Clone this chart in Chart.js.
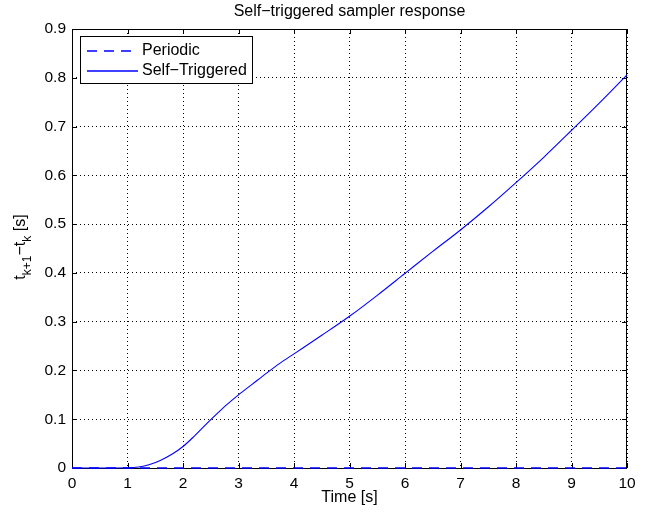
<!DOCTYPE html>
<html>
<head>
<meta charset="utf-8">
<script src="https://cdn.jsdelivr.net/npm/chart.js@4.4.1/dist/chart.umd.min.js"></script>
<style>
  html, body { margin: 0; padding: 0; background: #fff; }
  #wrap { width: 654px; height: 513px; }
</style>
</head>
<body>
<div id="wrap"><canvas id="chart" width="654" height="513"></canvas></div>
<script>
const timeS = [0, 0.5, 1, 1.2, 1.4, 1.6, 1.8, 2, 2.2, 2.4, 2.6, 2.8, 3, 3.25, 3.5, 3.75, 4, 4.5, 5, 5.5, 6, 6.5, 7, 7.5, 8, 8.5, 9, 9.5, 10];
const selfTriggered = [0, 0, 0.0005, 0.002, 0.007, 0.016, 0.028, 0.044, 0.065, 0.088, 0.110, 0.131, 0.150, 0.172, 0.194, 0.215, 0.234, 0.272, 0.311, 0.354, 0.399, 0.444, 0.488, 0.535, 0.585, 0.637, 0.692, 0.748, 0.806];
const periodicTime = [0, 10];
const periodic = [0, 0];
const xTicks = [0, 1, 2, 3, 4, 5, 6, 7, 8, 9, 10];
const yTicks = [0, 0.1, 0.2, 0.3, 0.4, 0.5, 0.6, 0.7, 0.8, 0.9];
const seriesNames = ["Periodic", "Self\u2212Triggered"];

const font = "Liberation Sans, Arial, Helvetica, sans-serif";
const lineBlue = "#0000ff";

const decor = {
  id: "decor",
  beforeDatasetsDraw(chart) {
    const ctx = chart.ctx;
    const a = chart.chartArea;
    const xs = chart.scales.x, ys = chart.scales.y;
    ctx.save();
    ctx.strokeStyle = "#000";
    ctx.lineWidth = 1;
    ctx.setLineDash([]);
    ctx.strokeRect(a.left + 0.5, a.top + 0.5, a.right - a.left - 1, a.bottom - a.top);
    // inward ticks
    ctx.beginPath();
    xTicks.forEach(v => {
      const px = Math.round(xs.getPixelForValue(v)) + 0.5;
      ctx.moveTo(px, a.bottom); ctx.lineTo(px, a.bottom - 5);
      ctx.moveTo(px, a.top); ctx.lineTo(px, a.top + 5);
    });
    yTicks.forEach(v => {
      const py = Math.round(ys.getPixelForValue(v)) + 0.5;
      ctx.moveTo(a.left, py); ctx.lineTo(a.left + 5, py);
      ctx.moveTo(a.right, py); ctx.lineTo(a.right - 5, py);
    });
    ctx.stroke();
    ctx.restore();
  },
  afterDraw(chart) {
    const ctx = chart.ctx;
    const a = chart.chartArea;
    ctx.save();
    const cx = (a.left + a.right) / 2;
    ctx.fillStyle = "#000";
    ctx.textAlign = "center";
    ctx.textBaseline = "middle";
    ctx.font = "16px " + font;
    ctx.fillText("Self\u2212triggered sampler response", cx, 12);
    ctx.fillText("Time [s]", cx, 498);

    // y label with subscripts, rotated
    ctx.save();
    ctx.translate(20, 247);
    ctx.rotate(-Math.PI / 2);
    const parts = [["t", 0], ["k+1", 1], ["\u2212t", 0], ["k", 1], [" [s]", 0]];
    const fNorm = "16px " + font, fSub = "12px " + font;
    let total = 0;
    parts.forEach(p => { ctx.font = p[1] ? fSub : fNorm; total += ctx.measureText(p[0]).width; });
    let x = -total / 2;
    ctx.textAlign = "left";
    ctx.textBaseline = "alphabetic";
    parts.forEach(p => {
      ctx.font = p[1] ? fSub : fNorm;
      ctx.fillText(p[0], x, p[1] ? 11 : 5);
      x += ctx.measureText(p[0]).width;
    });
    ctx.restore();

    // legend
    const lx = 80, ly = 36, lw = 172, lh = 47;
    ctx.fillStyle = "#fff";
    ctx.fillRect(lx, ly, lw, lh);
    ctx.strokeStyle = "#000";
    ctx.lineWidth = 1;
    ctx.strokeRect(lx + 0.5, ly + 0.5, lw, lh);
    const dashes = [[10, 7], []];
    seriesNames.forEach((name, i) => {
      const yy = ly + 15 + i * 20;
      ctx.strokeStyle = lineBlue;
      ctx.lineWidth = 1.4;
      ctx.setLineDash(dashes[i]);
      ctx.beginPath();
      ctx.moveTo(lx + 7, yy); ctx.lineTo(lx + 58, yy);
      ctx.stroke();
      ctx.setLineDash([]);
      ctx.fillStyle = "#000";
      ctx.font = "16px " + font;
      ctx.textAlign = "left";
      ctx.textBaseline = "middle";
      ctx.fillText(name, lx + 62, yy);
    });
    ctx.restore();
  }
};

new Chart(document.getElementById("chart"), {
  type: "line",
  data: {
    datasets: [
      {
        label: seriesNames[0],
        data: periodicTime.map((t, i) => ({ x: t, y: periodic[i] })),
        borderColor: lineBlue,
        borderWidth: 1.5,
        borderDash: [10, 7],
        pointRadius: 0,
        clip: 4,
        fill: false
      },
      {
        label: seriesNames[1],
        data: timeS.map((t, i) => ({ x: t, y: selfTriggered[i] })),
        borderColor: lineBlue,
        borderWidth: 1.1,
        cubicInterpolationMode: "monotone",
        pointRadius: 0,
        clip: 4,
        fill: false
      }
    ]
  },
  options: {
    responsive: false,
    animation: false,
    layout: { padding: { left: 0, right: 27, top: 29, bottom: 0 } },
    plugins: { legend: { display: false }, title: { display: false }, tooltip: { enabled: false } },
    scales: {
      x: {
        type: "linear",
        min: 0, max: 10,
        afterFit(s) { s.height = 45; },
        afterBuildTicks(s) { s.ticks = xTicks.map(v => ({ value: v })); },
        grid: { color: "#000", lineWidth: 1, drawTicks: false },
        border: { display: false, dash: [1, 3] },
        ticks: { color: "#000", padding: 6, font: { family: font, size: 15.5 }, maxRotation: 0 }
      },
      y: {
        type: "linear",
        min: 0, max: 0.9,
        afterFit(s) { s.width = 72; },
        afterBuildTicks(s) { s.ticks = yTicks.map(v => ({ value: v })); },
        grid: { color: "#000", lineWidth: 1, drawTicks: false },
        border: { display: false, dash: [1, 3] },
        ticks: {
          color: "#000", padding: 6, font: { family: font, size: 15.5 },
          callback: v => String(Number(v.toFixed(1)))
        }
      }
    }
  },
  plugins: [decor]
});
</script>
</body>
</html>
